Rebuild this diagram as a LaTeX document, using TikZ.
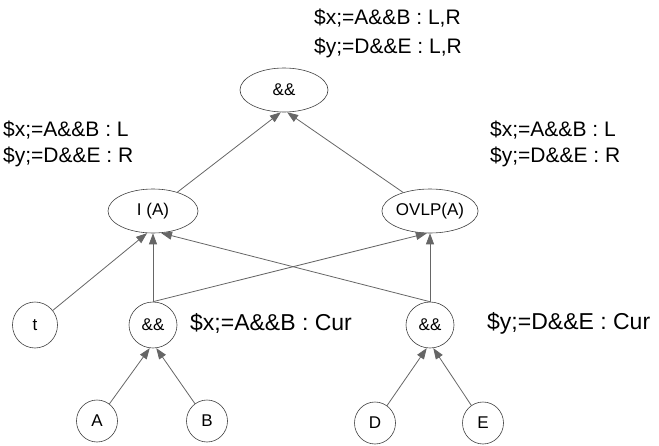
\documentclass[tikz,border=0pt]{standalone}
\usepackage{fontspec}
\setmainfont{Liberation Sans}
\usetikzlibrary{shapes.geometric,arrows.meta}
\begin{document}
\begin{tikzpicture}[x=1pt,y=-1pt,
  ell/.style={draw=black!75,line width=0.6pt,ellipse,minimum width=#1,minimum height=44pt,inner sep=0pt,font=\fontsize{17}{17}\selectfont},
  circ/.style={draw=black!75,line width=0.6pt,ellipse,minimum width=#1,minimum height=46pt,inner sep=0pt,font=\fontsize{17}{17}\selectfont},
  lbl/.style={anchor=west,inner sep=0pt,font=\fontsize{21}{21}\selectfont},
  lblc/.style={anchor=west,inner sep=0pt,font=\fontsize{23}{23}\selectfont},
  edge/.style={draw=black!60,line width=0.8pt,-{Triangle[length=11pt,width=8pt]}}]
\useasboundingbox (0,0) rectangle (659,445);
% labels
\node[lbl] (t1) at (314,18) {\$x;=A\&\&B : L,R};
\node[lbl] (t2) at (314,48) {\$y;=D\&\&E : L,R};
\node[lbl] (l1) at (3,130) {\$x;=A\&\&B : L};
\node[lbl] (l2) at (3,157) {\$y;=D\&\&E : R};
\node[lbl] (r1) at (490,130) {\$x;=A\&\&B : L};
\node[lbl] (r2) at (490,157) {\$y;=D\&\&E : R};
\node[lblc] (c1) at (190,323) {\$x;=A\&\&B : Cur};
\node[lblc] (c2) at (487,323) {\$y;=D\&\&E : Cur};
% nodes
\node[ell=88pt] (top) at (284,90) {\&\&};
\node[ell=90pt] (ia) at (153,211) {I (A)};
\node[ell=92pt] (ov) at (430,211) {OVLP(A)};
\node[circ=45pt] (t) at (35,325) {t};
\node[circ=48pt] (andl) at (153,325) {\&\&};
\node[circ=48pt] (andr) at (430,325) {\&\&};
\node[circ=41pt,minimum height=42pt] (a) at (97,421) {A};
\node[circ=41pt,minimum height=42pt] (b) at (207,421) {B};
\node[circ=41pt,minimum height=42pt] (d) at (375,423) {D};
\node[circ=41pt,minimum height=42pt] (e) at (483,423) {E};
% edges
\draw[edge] (ia) -- (top.262);
\draw[edge] (ov) -- (top.278);
\draw[edge] (t) -- (ia.255);
\draw[edge] (andl) -- (ia.south);
\draw[edge] (andl.north) -- (ov.262);
\draw[edge] (andr.north) -- (ia.290);
\draw[edge] (andr) -- (ov.south);
\draw[edge] (a) -- (andl.262);
\draw[edge] (b) -- (andl.278);
\draw[edge] (d) -- (andr.262);
\draw[edge] (e) -- (andr.278);
\end{tikzpicture}
\end{document}
